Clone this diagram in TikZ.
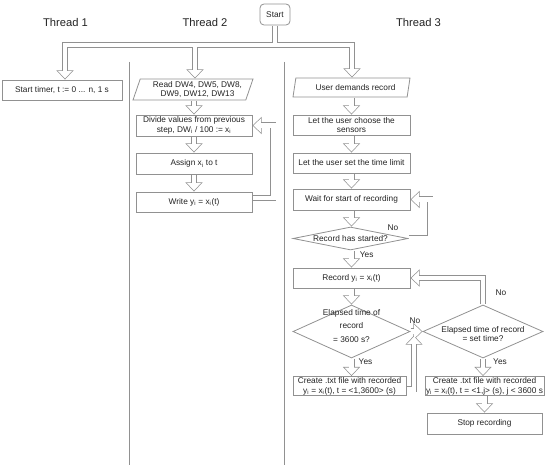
\documentclass[tikz,border=0pt]{standalone}
\usepackage{fontspec}
\setmainfont{Liberation Sans}
\usetikzlibrary{shapes.geometric,calc}
\definecolor{lc}{RGB}{145,145,145}
\definecolor{tc}{RGB}{35,35,35}
% hollow arrow head: drawn in two passes (outline pass, then white pass)
\newcommand\hd[2]{\path[hdst, shift={#1}, rotate=#2] (-1.1,0) -- (-8.5,7) -- (-8.5,-7) -- cycle;}
\newcommand\connectors{%
  \draw[conn] (start.south) -- (j0) -- (j1) -- ($(timer.north -| j1)+(0,6)$);
  \draw[conn] (j0) -- (j2) -- ($(read.north -| j2)+(0,6)$);
  \draw[conn] (j0) -- (j3) -- ($(user.north -| j3)+(0,6)$);
  \draw[conn] (read.south -| div.north) -- ($(div.north)+(0,6)$);
  \draw[conn] (div.south) -- ($(assign.north)+(0,6)$);
  \draw[conn] (assign.south) -- ($(write.north)+(0,6)$);
  \draw[conn] ($(write.east)+(0,4)$) -- ++(21,0) |- ($(div.east)+(6,0)$);
  \draw[conn] (user.south -| choose.north) -- ($(choose.north)+(0,6)$);
  \draw[conn] (choose.south) -- ($(limit.north)+(0,6)$);
  \draw[conn] (limit.south) -- ($(wait.north)+(0,6)$);
  \draw[conn] (wait.south) -- ($(d1.north -| wait.south)+(0,6)$);
  \draw[conn] (d1.east) -- ++(22,0) |- ($(wait.east)+(6,0)$);
  \draw[conn] (d1.south -| rec.north) -- ($(rec.north)+(0,6)$);
  \draw[conn] (rec.south) -- ($(d2.north)+(0,6)$);
  \draw[conn] (d3.north) |- ($(rec.east)+(6,0)$);
  \draw[conn] (d2.east) -- ($(d3.west)+(-6,0)$);
  \draw[conn] ($(create1.east)+(0,-3.5)$) -| ($(upend)+(0,-6)$);
  \draw[conn] (d2.south) -- ($(create1.north -| d2.south)+(0,6)$);
  \draw[conn] (d3.south) -- ($(create2.north -| d3.south)+(0,6)$);
  \draw[conn] (create2.south -| stop.north) -- ($(stop.north)+(0,6)$);
}
\newcommand\heads{%
  \hd{(timer.north -| j1)}{-90}
  \hd{(read.north -| j2)}{-90}
  \hd{(user.north -| j3)}{-90}
  \hd{(div.north)}{-90}
  \hd{(assign.north)}{-90}
  \hd{(write.north)}{-90}
  \hd{(div.east)}{180}
  \hd{(choose.north)}{-90}
  \hd{(limit.north)}{-90}
  \hd{(wait.north)}{-90}
  \hd{(d1.north -| wait.south)}{-90}
  \hd{(wait.east)}{180}
  \hd{(rec.north)}{-90}
  \hd{(d2.north)}{-90}
  \hd{(rec.east)}{180}
  \hd{(d3.west)}{0}
  \hd{(upend)}{90}
  \hd{(create1.north -| d2.south)}{-90}
  \hd{(create2.north -| d3.south)}{-90}
  \hd{(stop.north)}{-90}
}
\begin{document}
\begin{tikzpicture}[x=1pt,y=1pt,
  font=\fontsize{8.3}{9.8}\selectfont, text=tc,
  title/.style={font=\fontsize{11.2}{13}\selectfont, inner sep=0pt},
  box/.style={draw=lc, line width=0.8pt, rectangle, inner xsep=1pt, inner ysep=0.5pt, align=center},
  io/.style={draw=lc, line width=0.8pt, trapezium, trapezium left angle=68, trapezium right angle=112,
    trapezium stretches body, inner xsep=1pt, inner ysep=0.5pt, align=center},
  diam/.style={draw=lc, line width=0.8pt, diamond, inner sep=0pt},
  txt/.style={align=center, inner sep=0pt},
  lbl/.style={inner sep=0pt},
  sepline/.style={draw=lc, line width=0.8pt}]
\useasboundingbox (0,0) rectangle (550,-468);

% titles
\node[title] (t1) at (65.5,-22) {Thread 1};
\node[title] (t2) at (205,-22) {Thread 2};
\node[title] (t3) at (418.5,-22) {Thread 3};

% separators
\draw[sepline] (129.5,-62) -- (129.5,-465);
\draw[sepline] (284,-62) -- (284,-465);

% nodes
\node[box, rounded corners=4pt, minimum width=30, minimum height=21] (start) at (275,-14.5) {Start};
\node[box, minimum width=120, minimum height=20] (timer) at (62,-90) {Start timer, t := 0 ... n, 1 s};
\node[io, minimum width=120, minimum height=21] (read) at (193,-89.5) {\hspace*{9pt}Read DW4, DW5, DW8,\\\hspace*{9pt}DW9, DW12, DW13};
\node[box, minimum width=116, minimum height=21] (div) at (194,-125.5) {Divide values from previous\\step, DW\textsubscript{i} / 100 := x\textsubscript{i}};
\node[box, minimum width=116, minimum height=21] (assign) at (194,-163.5) {Assign x\textsubscript{i} to t};
\node[box, minimum width=116, minimum height=20] (write) at (194,-202) {Write y\textsubscript{i} = x\textsubscript{i}(t)};

\node[io, minimum width=117, minimum height=19] (user) at (351.5,-87.5) {\hspace*{8pt}User demands record};
\node[box, minimum width=117, minimum height=20] (choose) at (351.5,-125) {Let the user choose the\\sensors};
\node[box, minimum width=117, minimum height=20] (limit) at (351.5,-163) {Let the user set the time limit};
\node[box, minimum width=117, minimum height=21] (wait) at (351.5,-199.5) {Wait for start of recording};
\node[diam, minimum width=115, minimum height=23] (d1) at (350.5,-238.5) {};
\node[txt] (d1t) at (d1) {Record has started?};
\node[box, minimum width=117, minimum height=20] (rec) at (351.5,-278) {Record y\textsubscript{i} = x\textsubscript{i}(t)};
\node[diam, minimum width=117, minimum height=53] (d2) at (351.5,-331.5) {};
\node[txt] (d2t) at (351.5,-326) {Elapsed time of\\[3.5pt]record\\[3.5pt]= 3600 s?};
\node[diam, minimum width=120, minimum height=53] (d3) at (483,-331.5) {};
\node[txt] (d3t) at (483,-334) {Elapsed time of record\\= set time?};
\node[box, minimum width=113, minimum height=19] (create1) at (349.5,-386) {Create .txt file with recorded\\y\textsubscript{i} = x\textsubscript{i}(t), t = <1,3600> (s)};
\node[box, minimum width=115, minimum height=19] (create2) at (484.5,-386) {Create .txt file with recorded\\y\textsubscript{i} = x\textsubscript{i}(t), t = <1,j> (s), j < 3600 s};
\node[box, minimum width=115, minimum height=21] (stop) at (484.5,-423.5) {Stop recording};

% labels
\node[lbl] (no1) at (393,-228) {No};
\node[lbl] (yes1) at (366.7,-255) {Yes};
\node[lbl] (no2) at (415,-320.7) {No};
\node[lbl] (yes2) at (365.5,-362) {Yes};
\node[lbl] (no3) at (501,-292.7) {No};
\node[lbl] (yes3) at (500,-362) {Yes};

% junction coordinates
\coordinate (j1) at (65,-45);
\coordinate (j2) at (195,-45);
\coordinate (j3) at (352,-45);
\coordinate (j0) at (start.south |- j1);
\coordinate (upend) at (414,-335.5);

% pass 1: outlines
\tikzset{conn/.style={draw=lc, line width=6pt, shorten <=0.4pt},
         hdst/.style={fill=lc, draw=lc, line width=1.4pt, line join=miter}}
\connectors
\heads
% pass 2: white interiors
\tikzset{conn/.style={draw=white, line width=4.6pt, shorten <=0.4pt},
         hdst/.style={fill=white}}
\connectors
\heads
\end{tikzpicture}
\end{document}
